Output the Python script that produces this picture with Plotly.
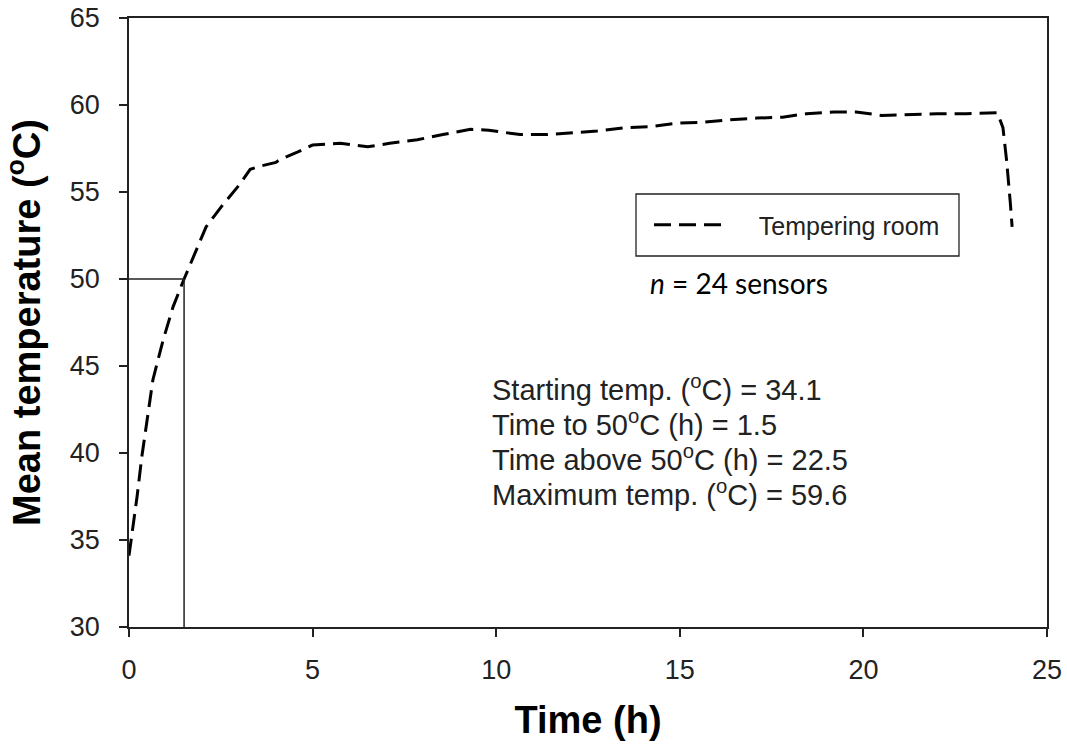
import plotly.graph_objects as go

time_h = [0.0, 0.11, 0.22, 0.35, 0.49, 0.65, 0.93, 1.2, 1.5, 1.8, 2.1, 2.55, 3.0, 3.3, 3.6,
          4.0, 4.1, 4.6, 5.0, 5.75, 6.5, 7.1, 7.85, 8.55, 9.3, 9.8, 10.65, 11.4, 12.1,
          12.75, 13.55, 14.2, 14.9, 15.55, 16.35, 17.1, 17.8, 18.45, 19.2, 19.8, 20.5,
          21.3, 22.0, 22.8, 23.65, 23.8, 23.9, 24.0, 24.05]
mean_temp = [34.1, 35.75, 37.5, 39.8, 41.9, 44.2, 46.5, 48.4, 50.0, 51.5, 53.0, 54.25, 55.4,
             56.3, 56.5, 56.7, 56.85, 57.3, 57.7, 57.8, 57.6, 57.8, 58.0, 58.3, 58.6, 58.55,
             58.3, 58.3, 58.4, 58.5, 58.7, 58.75, 58.95, 59.0, 59.15, 59.25, 59.3, 59.5,
             59.6, 59.6, 59.4, 59.45, 59.5, 59.5, 59.55, 58.7, 56.8, 54.4, 53.0]

ref_time = 1.5
ref_temp = 50
x_ticks = [0, 5, 10, 15, 20, 25]
y_ticks = [30, 35, 40, 45, 50, 55, 60, 65]

stats_lines = [
    "Starting temp. (<sup>o</sup>C) = 34.1",
    "Time to 50<sup>o</sup>C (h) = 1.5",
    "Time above 50<sup>o</sup>C (h) = 22.5",
    "Maximum temp. (<sup>o</sup>C) = 59.6",
]

ARIAL = "Liberation Sans, Arial, sans-serif"
L, R, T, B = 129, 1047, 18, 627
PW, PH = R - L, B - T


def px_x(p):
    return (p - L) / PW


def px_y(p):
    return 1 - (p - T) / PH


fig = go.Figure()
fig.add_trace(go.Scatter(
    x=time_h, y=mean_temp, mode="lines", name="\u00a0\u00a0\u00a0\u00a0Tempering room",
    line=dict(color="black", width=3, dash="17px,8px"),
))
# reference lines at 50 C
fig.add_trace(go.Scatter(x=[0, ref_time], y=[ref_temp, ref_temp], mode="lines",
                         line=dict(color="#222", width=1.5), showlegend=False, hoverinfo="skip"))
fig.add_trace(go.Scatter(x=[ref_time, ref_time], y=[30, ref_temp], mode="lines",
                         line=dict(color="#222", width=1.5), showlegend=False, hoverinfo="skip"))

# legend box
fig.add_shape(type="rect", xref="paper", yref="paper",
              x0=px_x(636), x1=px_x(959), y0=px_y(256), y1=px_y(194),
              line=dict(color="#222", width=1.3), fillcolor="rgba(0,0,0,0)")

for i, txt in enumerate(stats_lines):
    fig.add_annotation(x=px_x(490), y=px_y(388 + 35 * i),
                       xref="paper", yref="paper", xanchor="left", yanchor="middle",
                       text=txt, showarrow=False,
                       font=dict(family=ARIAL, size=29, color="#222"))

fig.add_annotation(x=px_x(648), y=px_y(283),
                   xref="paper", yref="paper", xanchor="left", yanchor="middle",
                   text="<i>n</i> = 24 sensors", showarrow=False,
                   font=dict(family="Lato, Open Sans, sans-serif", size=28, color="black"))

fig.update_layout(
    width=1067, height=746,
    margin=dict(l=L, r=1067 - R, t=T, b=746 - B, autoexpand=False),
    paper_bgcolor="white", plot_bgcolor="white",
    font=dict(family=ARIAL, color="black"),
    legend=dict(x=px_x(649), y=px_y(225), xanchor="left", yanchor="middle",
                bgcolor="rgba(0,0,0,0)", borderwidth=0, itemwidth=72,
                font=dict(family=ARIAL, size=25, color="#222")),
    showlegend=True,
)
fig.update_xaxes(range=[0, 25], tickvals=x_ticks, ticks="outside", ticklen=8, tickwidth=1.5,
                 tickcolor="#222", showline=True, linecolor="#222", linewidth=1.5, mirror=True,
                 showgrid=False, zeroline=False, ticklabelstandoff=10,
                 tickfont=dict(family=ARIAL, size=27, color="#222"),
                 title=dict(text="<b>Time (h)</b>", font=dict(family=ARIAL, size=38), standoff=22))
fig.update_yaxes(range=[30, 65], tickvals=y_ticks, ticks="outside", ticklen=8, tickwidth=1.5,
                 tickcolor="#222", showline=True, linecolor="#222", linewidth=1.5, mirror=True,
                 showgrid=False, zeroline=False, ticklabelstandoff=14,
                 tickfont=dict(family=ARIAL, size=27, color="#222"),
                 title=dict(text="<b>Mean temperature (<sup>o</sup>C)</b>",
                            font=dict(family=ARIAL, size=38), standoff=18))

fig.write_html("out.html", config={"displayModeBar": False},
               post_script="document.body.style.margin='0';")
